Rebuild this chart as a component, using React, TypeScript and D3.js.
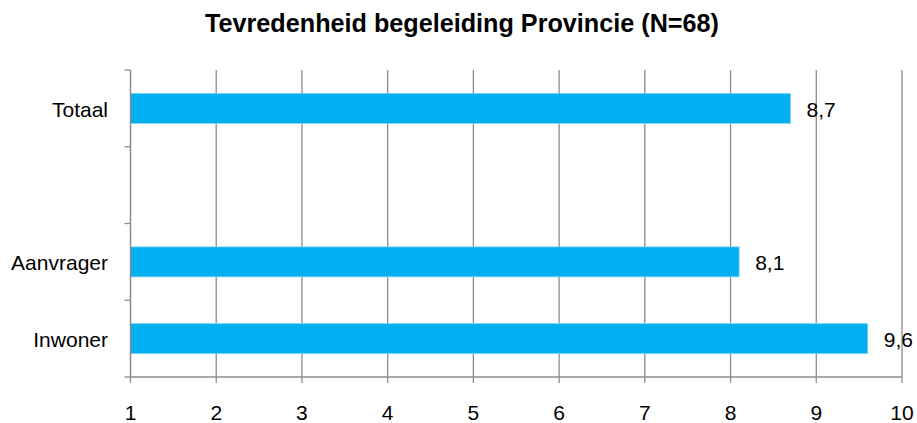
import React, { useEffect, useRef } from 'react';
import * as d3 from 'd3';

const CATEGORIES = ['Totaal', '', 'Aanvrager', 'Inwoner'];
const VALUES = [8.7, null, 8.1, 9.6];
const X_TICKS = [1, 2, 3, 4, 5, 6, 7, 8, 9, 10];
const TITLE = 'Tevredenheid begeleiding Provincie (N=68)';

export default function App() {
  const svgRef = useRef<SVGSVGElement>(null);

  useEffect(() => {
    const width = 917;
    const height = 423;
    const svg = d3.select(svgRef.current);
    svg.selectAll('*').remove();

    const left = 130.5;
    const right = 902;
    const top = 70;
    const bottom = 377;
    const font = 'Liberation Sans, Arial, sans-serif';
    const gridColor = '#8c8c8c';

    const x = d3.scaleLinear().domain([1, 10]).range([left, right]);
    const y = d3
      .scaleBand()
      .domain(CATEGORIES.map((c, i) => String(i)))
      .range([top, bottom])
      .paddingInner(0)
      .paddingOuter(0);

    // title
    svg
      .append('text')
      .attr('x', 462)
      .attr('y', 31.5)
      .attr('text-anchor', 'middle')
      .attr('font-family', font)
      .attr('font-size', 25.2)
      .attr('font-weight', 'bold')
      .text(TITLE);

    // vertical gridlines
    X_TICKS.slice(1).forEach(t => {
      svg
        .append('line')
        .attr('x1', x(t))
        .attr('x2', x(t))
        .attr('y1', top)
        .attr('y2', bottom)
        .attr('stroke', gridColor)
        .attr('stroke-width', 1.3);
    });

    // bars
    const barH = 30;
    VALUES.forEach((v, i) => {
      if (v == null) return;
      const yc = (y(String(i)) as number) + y.bandwidth() / 2;
      svg
        .append('rect')
        .attr('x', x(1))
        .attr('y', yc - barH / 2)
        .attr('width', x(v) - x(1))
        .attr('height', barH)
        .attr('fill', '#00B0F0')
        .attr('stroke', '#7fd6f6')
        .attr('stroke-width', 0.8);
      svg
        .append('text')
        .attr('x', x(v) + 16)
        .attr('y', yc + 8.5)
        .attr('font-family', font)
        .attr('font-size', 21)
        .attr('fill', '#000')
        .text(String(v).replace('.', ','));
    });

    // y axis
    svg
      .append('line')
      .attr('x1', left)
      .attr('x2', left)
      .attr('y1', top)
      .attr('y2', bottom)
      .attr('stroke', gridColor)
      .attr('stroke-width', 1.5);
    const yTicks = CATEGORIES.map((c, i) => y(String(i)) as number).concat([bottom]);
    yTicks.forEach(ty => {
      svg
        .append('line')
        .attr('x1', left - 6)
        .attr('x2', left)
        .attr('y1', ty)
        .attr('y2', ty)
        .attr('stroke', gridColor)
        .attr('stroke-width', 1.3);
    });
    CATEGORIES.forEach((c, i) => {
      if (!c) return;
      svg
        .append('text')
        .attr('x', 108)
        .attr('y', (y(String(i)) as number) + y.bandwidth() / 2 + 8.5)
        .attr('text-anchor', 'end')
        .attr('font-family', font)
        .attr('font-size', 21)
        .text(c);
    });

    // x axis
    svg
      .append('line')
      .attr('x1', left)
      .attr('x2', right)
      .attr('y1', bottom)
      .attr('y2', bottom)
      .attr('stroke', gridColor)
      .attr('stroke-width', 1.5);
    X_TICKS.forEach(t => {
      svg
        .append('line')
        .attr('x1', x(t))
        .attr('x2', x(t))
        .attr('y1', bottom)
        .attr('y2', bottom + 6)
        .attr('stroke', gridColor)
        .attr('stroke-width', 1.3);
      svg
        .append('text')
        .attr('x', x(t))
        .attr('y', 419.5)
        .attr('text-anchor', 'middle')
        .attr('font-family', font)
        .attr('font-size', 21)
        .text(t);
    });

    svg.attr('width', width).attr('height', height);
  }, []);

  return (
    <svg
      ref={svgRef}
      width={917}
      height={423}
      style={{ position: 'absolute', left: 0, top: 0, background: '#fff' }}
    />
  );
}
